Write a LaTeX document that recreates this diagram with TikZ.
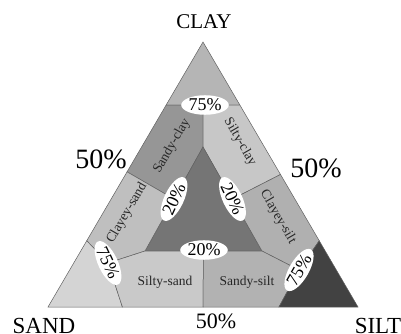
\documentclass[tikz,border=0pt]{standalone}
\usepackage{fontspec}
\setmainfont{Liberation Serif}
\usepackage{tikz}
\usetikzlibrary{calc, shapes.geometric}
\definecolor{EdgeGray}{gray}{0.38}
\definecolor{TextGray}{gray}{0.15}
\definecolor{ClayGray}{gray}{0.71}
\definecolor{SandyClayGray}{gray}{0.59}
\definecolor{SiltyClayGray}{gray}{0.78}
\definecolor{CoreGray}{gray}{0.46}
\definecolor{ClayeySandGray}{gray}{0.75}
\definecolor{ClayeySiltGray}{gray}{0.69}
\definecolor{SandGray}{gray}{0.83}
\definecolor{SiltySandGray}{gray}{0.79}
\definecolor{SandySiltGray}{gray}{0.70}
\definecolor{SiltGray}{gray}{0.26}

\begin{document}
\begin{tikzpicture}[x=1pt, y=-1pt, line width=0.5pt,
    zone/.style={fill=#1, draw=EdgeGray},
    pct/.style={ellipse, fill=white, inner xsep=0.3pt, inner ysep=0.8pt, font=\fontsize{18}{18}\selectfont},
    lbl/.style={font=\fontsize{13.5}{13.5}\selectfont, text=TextGray},
    big/.style={font=\fontsize{#1}{#1}\selectfont}]
        \clip (0,0) rectangle (401,334);
        % Corners of the triangle
        \coordinate (A) at (203,42);
        \coordinate (L) at (48,307);
        \coordinate (R) at (358,307);
        % Points on the sides
        \coordinate (c1) at ($(A)!0.238!(L)$);
        \coordinate (c2) at ($(A)!0.238!(R)$);
        \coordinate (m1) at ($(c1)!0.5!(c2)$);
        \coordinate (lh) at ($(A)!0.49!(L)$);
        \coordinate (rh) at ($(A)!0.5!(R)$);
        \coordinate (lq) at ($(A)!0.75!(L)$);
        \coordinate (rq) at ($(A)!0.75!(R)$);
        \coordinate (bl) at ($(L)!0.24!(R)$);
        \coordinate (bm) at ($(L)!0.5!(R)$);
        \coordinate (br) at ($(L)!0.745!(R)$);
        % Inner triangle
        \coordinate (I1) at (203,147);
        \coordinate (I2) at (145,251);
        \coordinate (I3) at (262,251);
        \coordinate (ML) at ($(I1)!0.5!(I2)$);
        \coordinate (MR) at ($(I1)!0.5!(I3)$);
        \coordinate (MB) at ($(I2)!0.5!(I3)$);
        \coordinate (E1) at (108,263);
        \coordinate (E2) at (299,270);
        % Zones
        \draw [zone=ClayGray] (A) -- (c1) -- (c2) -- cycle;
        \draw [zone=SandyClayGray] (c1) -- (m1) -- (I1) -- (ML) -- (lh) -- cycle;
        \draw [zone=SiltyClayGray] (m1) -- (c2) -- (rh) -- (MR) -- (I1) -- cycle;
        \draw [zone=CoreGray] (I1) -- (I2) -- (I3) -- cycle;
        \draw [zone=ClayeySandGray] (lh) -- (ML) -- (I2) -- (E1) -- (lq) -- cycle;
        \draw [zone=ClayeySiltGray] (rh) -- (rq) -- (E2) -- (I3) -- (MR) -- cycle;
        \draw [zone=SandGray] (lq) -- (L) -- (bl) -- (E1) -- cycle;
        \draw [zone=SiltySandGray] (E1) -- (bl) -- (bm) -- (MB) -- (I2) -- cycle;
        \draw [zone=SandySiltGray] (MB) -- (bm) -- (br) -- (E2) -- (I3) -- cycle;
        \draw [zone=SiltGray] (rq) -- (R) -- (br) -- (E2) -- cycle;
        % Zone names
        \node [lbl, rotate=60] (sandyclay) at (172,146) {Sandy-clay};
        \node [lbl, rotate=-60] (siltyclay) at (240,142) {Silty-clay};
        \node [lbl, rotate=60] (clayeysand) at (127,213) {Clayey-sand};
        \node [lbl, rotate=-60] (clayeysilt) at (278,217) {Clayey-silt};
        \node [lbl] (siltysand) at (165,282) {Silty-sand};
        \node [lbl] (sandysilt) at (247,282) {Sandy-silt};
        % Percentages on the borders
        \node [pct] (pTop) at (205,105) {75\%};
        \node [pct, rotate=65] (pLeft) at (ML) {20\%};
        \node [pct, rotate=-65] (pRight) at (MR) {20\%};
        \node [pct] (pBottom) at (204,250) {20\%};
        \node [pct, rotate=-65] (pSand) at (E1) {75\%};
        \node [pct, rotate=60] (pSilt) at (E2) {75\%};
        % Corner names and halves
        \node [big=21] (clay) at (204,22) {CLAY};
        \node [big=23] (sand) at (44,326) {SAND};
        \node [big=23] (silt) at (378,326) {SILT};
        \node [big=28] (halfL) at (101,159) {50\%};
        \node [big=28] (halfR) at (316,168) {50\%};
        \node [big=22] (halfB) at (216,321) {50\%};
\end{tikzpicture}
\end{document}
